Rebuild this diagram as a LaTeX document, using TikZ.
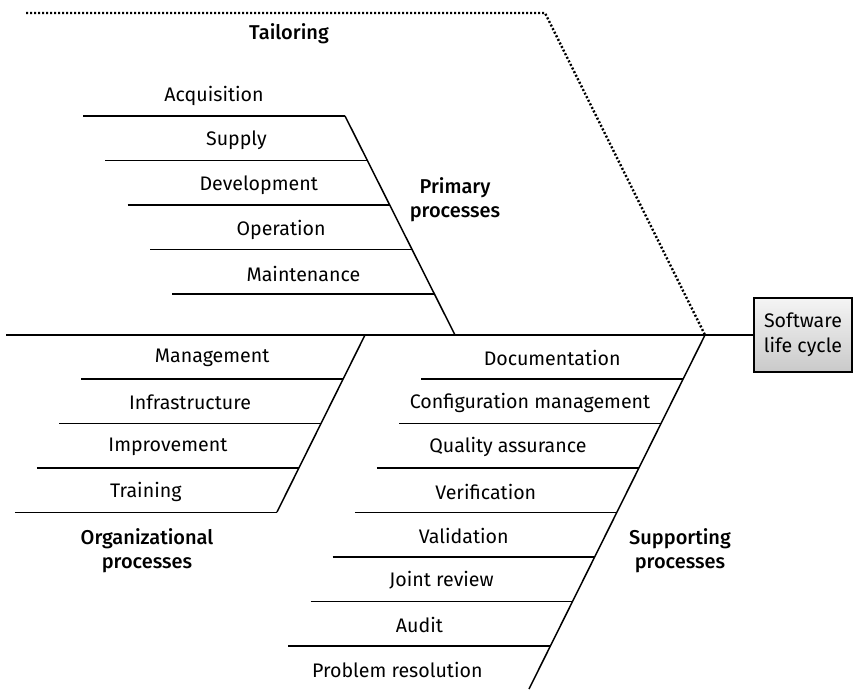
\documentclass[tikz,border=0pt]{standalone}
\usepackage{fontspec}
\setmainfont{Fira Sans}[BoldFont={Fira Sans Medium}]
\usetikzlibrary{calc}
\tikzset{
  rib/.style={line width=0.75pt},
  lbl/.style={inner sep=0pt},
  grp/.style={inner sep=0pt, align=center, font=\bfseries},
  cyclebox/.style={draw, line width=0.75pt, top color=gray!8, bottom color=gray!42,
    minimum width=49pt, minimum height=37pt, align=center, inner sep=0pt}
}
\begin{document}
\begin{tikzpicture}[x=0.5pt,y=-0.5pt,font=\fontsize{9.8}{12.5}\selectfont]
    \useasboundingbox (0,0) rectangle (854,689);
    % main axis and result box
    \node[cyclebox] (slc) at (803,335) {Software\\life cycle};
    \coordinate (axisstart) at (6,335);
    \coordinate (head) at (705,335);
    \draw[rib] (axisstart) -- (slc.west);
    % tailoring
    \draw[line width=1.2pt, dash pattern=on 1pt off 1pt] (26,13) -- (545,13) -- (head);
    \node[grp] (tail) at (289,34) {Tailoring};
    % primary processes
    \draw[rib] (345,116) -- (455,335);
    \foreach \i/\t in {0/Acquisition, 1/Supply, 2/Development, 3/Operation, 4/Maintenance} {
      \draw[rib] ({345+22.35*\i-262},{116+44.5*\i}) -- ({345+22.35*\i},{116+44.5*\i});
      \node[lbl] (prim\i) at ({345+22.35*\i-131},{116+44.5*\i-20}) {\t};
    }
    \node[grp] (primary) at (455,200) {Primary\\processes};
    % organizational processes
    \draw[rib] (365,335) -- (277,512);
    \foreach \i/\t in {0/Management, 1/Infrastructure, 2/Improvement, 3/Training} {
      \draw[rib] ({365-0.497*(44+44.5*\i)-262},{379+44.5*\i}) -- ({365-0.497*(44+44.5*\i)},{379+44.5*\i});
      \node[lbl] (org\i) at ({365-0.497*(44+44.5*\i)-131},{379+44.5*\i-21}) {\t};
    }
    \node[grp] (organizational) at (147,551) {Organizational\\processes};
    % supporting processes
    \draw[rib] (head) -- (529,689);
    \foreach \i in {0,...,6} {
      \draw[rib] ({705-0.497*(44+44.5*\i)-262},{379+44.5*\i}) -- ({705-0.497*(44+44.5*\i)},{379+44.5*\i});
    }
    \foreach \i/\t in {0/Documentation, 1/Configuration management, 2/Quality assurance,
      3/Verification, 4/Validation, 5/Joint review, 6/Audit, 7/Problem resolution} {
      \node[lbl] (sup\i) at ({705-0.497*(44+44.5*\i)-131},{379+44.5*\i-21}) {\t};
    }
    \node[grp] (supporting) at (680,551) {Supporting\\processes};
  \end{tikzpicture}
\end{document}
